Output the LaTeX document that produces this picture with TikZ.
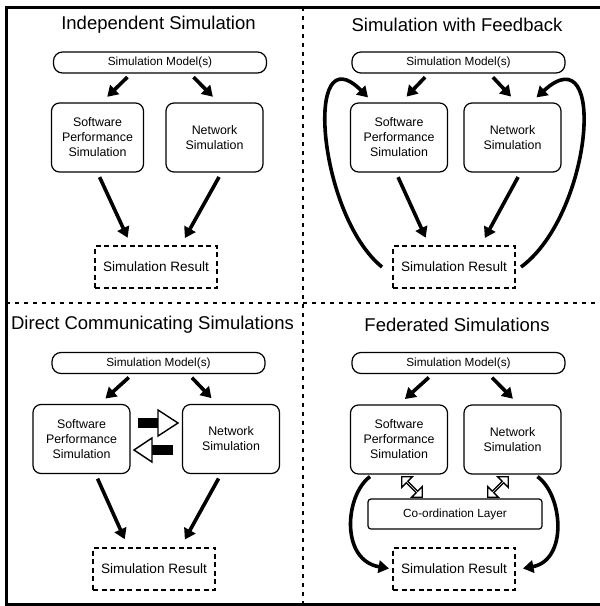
\documentclass[tikz,border=0pt]{standalone}
\usepackage{fontspec}
\setmainfont{Liberation Sans}
\usetikzlibrary{arrows.meta, shapes.arrows, calc}

\tikzset{
  title/.style={font=\fontsize{18.5}{22}\selectfont},
  model/.style={draw, line width=1.2pt, rounded corners=9pt, minimum width=213pt, minimum height=21pt, inner sep=0pt, font=\fontsize{11.8}{14}\selectfont},
  sim/.style={draw, line width=1.2pt, rounded corners=8pt, minimum width=97pt, minimum height=69pt, inner sep=0pt, align=center, font=\fontsize{12.4}{15}\selectfont},
  result/.style={draw, line width=2pt, dash pattern=on 5pt off 3.5pt, minimum width=122pt, minimum height=42pt, inner sep=0pt, font=\fontsize{13.6}{16}\selectfont},
  coordbox/.style={draw, line width=1.2pt, rounded corners=3pt, minimum width=174pt, minimum height=30pt, inner sep=0pt, font=\fontsize{11.8}{14}\selectfont},
  arr/.style={line width=3.6pt, -{Triangle[length=10.5pt, width=12.5pt]}, shorten <=5pt, shorten >=8pt},
  linkarrow/.style={double arrow, draw, line width=1.3pt, fill=white, minimum height=29pt, minimum width=15pt, double arrow head extend=4pt, inner sep=0pt},
  border/.style={line width=3pt},
  divider/.style={line width=2.5pt, dash pattern=on 4pt off 5pt}
}

\begin{document}
\begin{tikzpicture}[x=1pt, y=-1pt]
\useasboundingbox (0,0) rectangle (600,606);

% frame and dividers
\draw[border] (600,7) -- (6,7) -- (6,604) -- (600,604);
\draw[divider] (303,7) -- (303,604);
\draw[divider] (6,303) -- (600,303);

% Independent
\node[title] (t1) at (158.5,25) {Independent Simulation};
\node[model] (m1) at (160,62.5) {Simulation Model(s)};
\node[sim, minimum width=92pt] (sw1) at (97.5,137.5) {Software\\Performance\\Simulation};
\node[sim] (net1) at (214.5,137.5) {Network\\Simulation};
\node[result] (res1) at (156,267) {Simulation Result};
\draw[arr] ([xshift=-29pt]m1.south) -- ([xshift=4pt]sw1.north);
\draw[arr] ([xshift=30pt]m1.south) -- ([xshift=4pt]net1.north);
\draw[arr] ([xshift=0pt]sw1.south) -- ([xshift=-25pt]res1.north);
\draw[arr] ([xshift=7pt]net1.south) -- ([xshift=25pt]res1.north);

% Feedback
\node[title] (t2) at (457,25) {Simulation with Feedback};
\node[model] (m2) at (458.5,62.5) {Simulation Model(s)};
\node[sim] (sw2) at (399,137.5) {Software\\Performance\\Simulation};
\node[sim] (net2) at (512.5,137.5) {Network\\Simulation};
\node[result] (res2) at (454,267) {Simulation Result};
\draw[arr] ([xshift=-30pt]m2.south) -- ([xshift=2pt]sw2.north);
\draw[arr] ([xshift=31pt]m2.south) -- ([xshift=4pt]net2.north);
\draw[arr] ([xshift=-3pt]sw2.south) -- ([xshift=-25pt]res2.north);
\draw[arr] ([xshift=8pt]net2.south) -- ([xshift=27pt]res2.north);
\draw[arr, shorten <=0pt, shorten >=0pt] ([xshift=-10pt]res2.west) .. controls (318,215) and (303,32) .. ([xshift=-31pt, yshift=5pt]sw2.north);
\draw[arr, shorten <=0pt, shorten >=0pt] ([xshift=5pt]res2.east) .. controls (592,215) and (608,32) .. ([xshift=24pt, yshift=5pt]net2.north);

% Direct
\node[title] (t3) at (152.5,325) {Direct Communicating Simulations};
\node[model] (m3) at (158.5,363) {Simulation Model(s)};
\node[sim] (sw3) at (81.5,439) {Software\\Performance\\Simulation};
\node[sim] (net3) at (231,439) {Network\\Simulation};
\node[result] (res3) at (154,568.5) {Simulation Result};
\draw[arr] ([xshift=-26pt]m3.south) -- ([xshift=18pt]sw3.north);
\draw[arr] ([xshift=30pt]m3.south) -- ([xshift=-14pt]net3.north);
\draw[arr] ([xshift=14pt]sw3.south) -- ([xshift=-26pt]res3.north);
\draw[arr] ([xshift=-10pt]net3.south) -- ([xshift=27pt]res3.north);
\fill (138,418) rectangle (158,428);
\draw[line width=1.4pt, fill=white] (158,410) -- (178,423) -- (158,436) -- cycle;
\fill (152,445) rectangle (173,455);
\draw[line width=1.4pt, fill=white] (152,438) -- (134,450) -- (152,462) -- cycle;

% Federated
\node[title] (t4) at (457,325) {Federated Simulations};
\node[model] (m4) at (458.5,363) {Simulation Model(s)};
\node[sim] (sw4) at (399,439.5) {Software\\Performance\\Simulation};
\node[sim] (net4) at (512.5,439.5) {Network\\Simulation};
\node[coordbox] (cl) at (455,514) {Co-ordination Layer};
\node[result] (res4) at (454,568.5) {Simulation Result};
\draw[arr] ([xshift=-26pt]m4.south) -- ([xshift=0pt]sw4.north);
\draw[arr] ([xshift=30pt]m4.south) -- ([xshift=6pt]net4.north);
\node[linkarrow, rotate=-45] (lk1) at (412,487) {};
\node[linkarrow, rotate=45] (lk2) at (498,487) {};
\draw[arr, shorten <=0pt, shorten >=0pt] ([xshift=-29pt, yshift=-2pt]sw4.south) .. controls (345,495) and (340,560) .. ([xshift=-3pt]res4.west);
\draw[arr, shorten <=0pt, shorten >=0pt] ([xshift=25pt, yshift=-2pt]net4.south) .. controls (563,495) and (568,560) .. ([xshift=7pt]res4.east);
\end{tikzpicture}
\end{document}
